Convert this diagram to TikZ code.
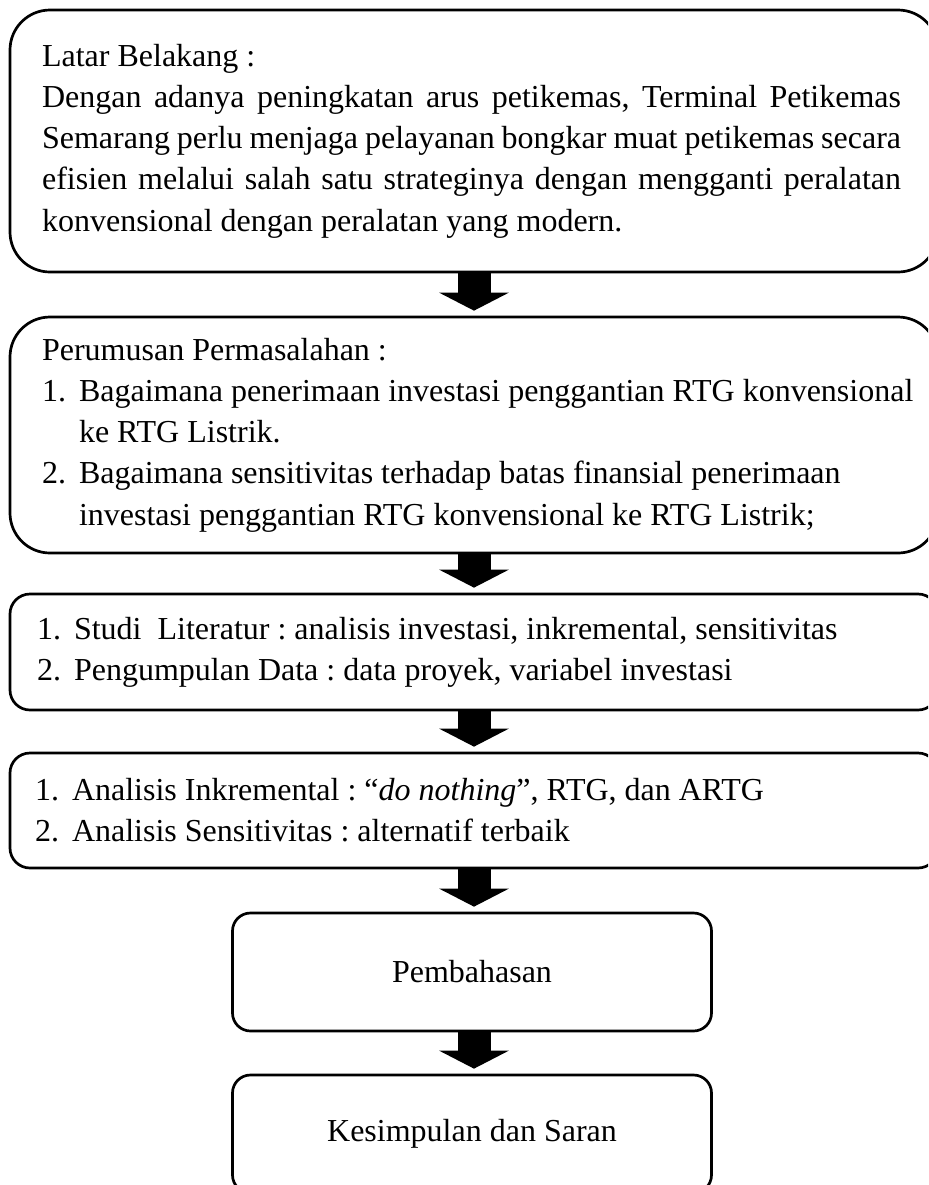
\documentclass[tikz,border=0pt]{standalone}
\usepackage{fontspec}
\setmainfont{Liberation Serif}
\usetikzlibrary{arrows.meta}
\frenchspacing

\newcommand{\isifont}{\fontsize{16pt}{20.6pt}\selectfont}
\newcommand{\nomor}[1]{\makebox[18.5pt][l]{#1}}
\newcommand{\gantung}{\hspace*{18.5pt}}

\begin{document}
\begin{tikzpicture}[x=0.5pt, y=-0.5pt,
    kotak/.style={draw=black, line width=1.35pt, minimum width=464pt, inner sep=0pt},
    isi/.style={font=\isifont, inner sep=0pt, anchor=west, align=left},
    panah/.style={line width=16.5pt, -{Triangle[width=34.5pt, length=9pt]}, shorten >=2.5pt}]
  \useasboundingbox (0,0) rectangle (928,1185);
  \clip (0,0) rectangle (928,1185);

  % Kotak alur
  \node[kotak, rounded corners=20pt, minimum height=131pt] (latar) at (474,141) {};
  \node[kotak, rounded corners=20pt, minimum height=118pt] (rumusan) at (474,435) {};
  \node[kotak, rounded corners=10pt, minimum height=58pt] (studi) at (474,652) {};
  \node[kotak, rounded corners=10pt, minimum height=57.5pt] (analisis) at (474,810.5) {};
  \node[kotak, rounded corners=9pt, minimum width=239.5pt, minimum height=59pt, font=\isifont] (bahas) at (472,972) {Pembahasan};
  \node[kotak, rounded corners=9pt, minimum width=239.5pt, minimum height=59pt, font=\isifont] (simpul) at (472,1134) {Kesimpulan dan Saran};

  % Isi teks
  \node[isi, text width=429.5pt, align=justify] (latar-isi) at ([xshift=16.5pt]latar.west) {Latar Belakang :\\
    Dengan adanya peningkatan arus petikemas, Terminal Petikemas\linebreak
    Semarang perlu menjaga pelayanan bongkar muat petikemas secara\linebreak
    efisien melalui salah satu strateginya dengan mengganti peralatan\linebreak
    konvensional dengan peralatan yang modern.};
  \node[isi] (rumusan-isi) at ([xshift=16.5pt]rumusan.west) {Perumusan Permasalahan :\\
    \nomor{1.}Bagaimana penerimaan investasi penggantian RTG konvensional\\
    \gantung ke RTG Listrik.\\
    \nomor{2.}Bagaimana sensitivitas terhadap batas finansial penerimaan\\
    \gantung investasi penggantian RTG konvensional ke RTG Listrik;};
  \node[isi] (studi-isi) at ([xshift=14pt]studi.west) {\nomor{1.}Studi~ Literatur : analisis investasi, inkremental, sensitivitas\\
    \nomor{2.}Pengumpulan Data : data proyek, variabel investasi};
  \node[isi] (analisis-isi) at ([xshift=13pt]analisis.west) {\nomor{1.}Analisis Inkremental : “\textit{do nothing}”, RTG, dan ARTG\\
    \nomor{2.}Analisis Sensitivitas : alternatif terbaik};

  % Panah
  \draw[panah] (latar.south) -- (rumusan.north);
  \draw[panah] (rumusan.south) -- (studi.north);
  \draw[panah] (studi.south) -- (analisis.north);
  \draw[panah] (analisis.south) -- (analisis.south |- bahas.north);
  \draw[panah] (bahas.south -| analisis.south) -- (analisis.south |- simpul.north);
\end{tikzpicture}
\end{document}
